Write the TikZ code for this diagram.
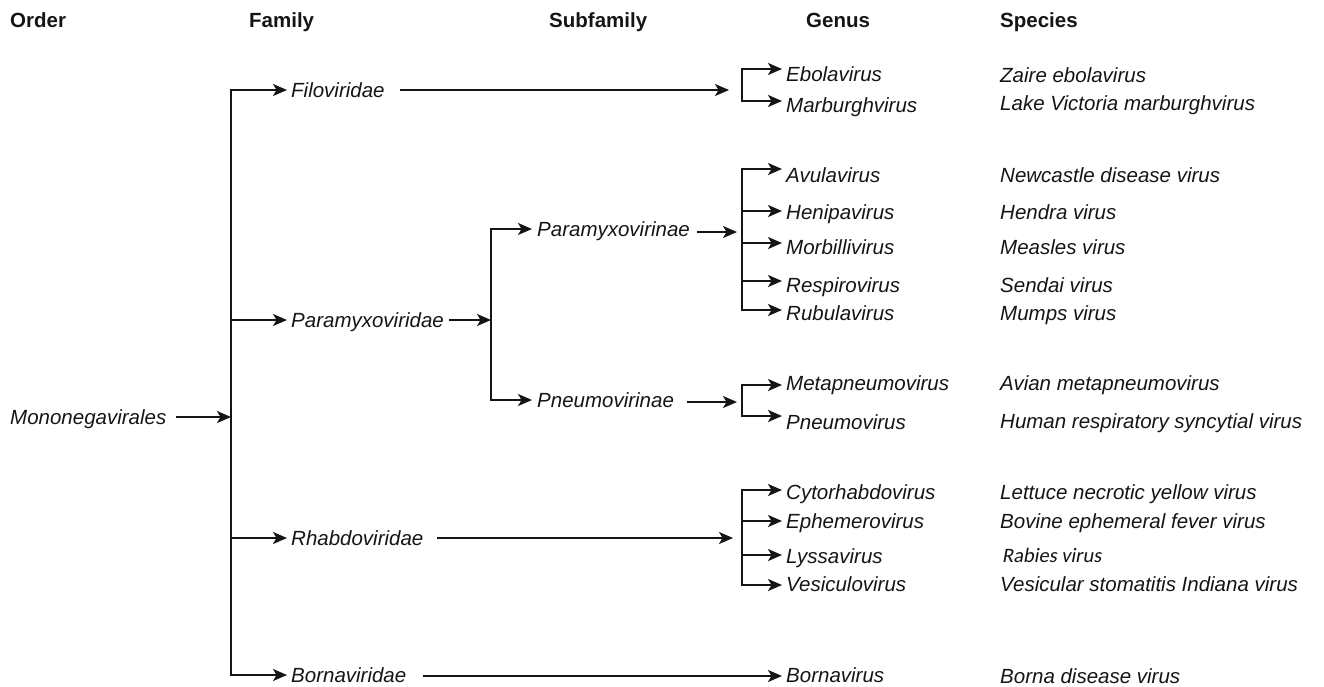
\documentclass[tikz,border=0pt]{standalone}
\usepackage{fontspec}
\setmainfont{Liberation Sans}
\newfontfamily\calfont[FakeSlant=0.18]{Carlito}
\usetikzlibrary{arrows.meta,calc}
\definecolor{ink}{HTML}{151515}

% arrow from a bracket (x of #1) to genus node #2, shifted down by #3 px
\newcommand\genarrow[3]{%
  \coordinate (#2-in) at ($(#1 |- #2.west)+(0,#3)$);
  \draw[arr] (#2-in) -- ($(#2.west)+(-4,#3)$);}

\begin{document}
\begin{tikzpicture}[x=1pt,y=-1pt,
  taxon/.style={font=\fontsize{20.5}{24}\selectfont\itshape, text=ink,
    inner sep=0pt, anchor=west, text height=14.7pt, text depth=0pt},
  rank/.style={font=\fontsize{20.5}{24}\selectfont\bfseries, text=ink,
    inner sep=0pt, anchor=west, text height=14.7pt, text depth=0pt},
  calib/.style={font=\fontsize{20.5}{24}\selectfont\calfont, text=ink,
    inner sep=0pt, anchor=west, text height=13.5pt, text depth=0pt},
  link/.style={draw=ink, line width=1.7pt, line cap=rect},
  arr/.style={link, -{Stealth[length=14pt,width=12pt,inset=3.5pt]}},
]
\useasboundingbox (0,0) rectangle (1324,686);

% column headings
\node[rank] (hOrder)   at (10,20)   {Order};
\node[rank] (hFamily)  at (249,20)  {Family};
\node[rank] (hSub)     at (549,20)  {Subfamily};
\node[rank] (hGenus)   at (806,20)  {Genus};
\node[rank] (hSpecies) at (1000,20) {Species};

% order
\node[taxon] (mono) at (10,417) {Mononegavirales};
\coordinate (oBar) at (231,417);
\draw[arr] ([xshift=10pt]mono.east) -- (oBar);

% families
\node[taxon] (filo)     at (291,90)  {Filoviridae};
\node[taxon] (paramyxo) at (291,320) {Paramyxoviridae};
\node[taxon] (rhabdo)   at (291,538) {Rhabdoviridae};
\node[taxon] (borna)    at (291,675) {Bornaviridae};
\draw[link] (oBar |- filo.west) -- (oBar |- borna.west);
\foreach \f in {filo,paramyxo,rhabdo,borna}
  \draw[arr] (oBar |- \f.west) -- ([xshift=-4pt]\f.west);

% subfamilies
\coordinate (pBar) at (491,320);
\draw[arr] ([xshift=6pt]paramyxo.east) -- (pBar);
\node[taxon] (pmv) at (537,229) {Paramyxovirinae};
\node[taxon] (pnv) at (537,400) {Pneumovirinae};
\draw[link] (pBar |- pmv.west) -- (pBar |- pnv.west);
\draw[arr] (pBar |- pmv.west) -- ([xshift=-5pt]pmv.west);
\draw[arr] (pBar |- pnv.west) -- ([xshift=-5pt]pnv.west);

% genus brackets and the arrows leading into them
\coordinate (gF) at (742,90);
\coordinate (gP) at (742,232);
\coordinate (gN) at (742,402);
\coordinate (gR) at (742,538);
\draw[arr] ([xshift=16pt]filo.east) -- ($(gF)+(-13,0)$);
\draw[arr] ($(pmv.east)+(8,3)$) -- ($(gP)+(-5,0)$);
\draw[arr] ($(pnv.east)+(14,2)$) -- ($(gN)+(-5,0)$);
\draw[arr] ([xshift=14pt]rhabdo.east) -- ($(gR)+(-9,0)$);

% genera
\node[taxon] (ebola)   at (786,74)  {Ebolavirus};
\node[taxon] (marburg) at (786,105) {Marburghvirus};
\node[taxon] (avula)   at (786,175) {Avulavirus};
\node[taxon] (henipa)  at (786,212) {Henipavirus};
\node[taxon] (morbilli) at (786,247) {Morbillivirus};
\node[taxon] (respiro) at (786,285) {Respirovirus};
\node[taxon] (rubula)  at (786,313) {Rubulavirus};
\node[taxon] (metapn)  at (786,383) {Metapneumovirus};
\node[taxon] (pneumo)  at (786,422) {Pneumovirus};
\node[taxon] (cyto)    at (786,492) {Cytorhabdovirus};
\node[taxon] (ephem)   at (786,521) {Ephemerovirus};
\node[taxon] (lyssa)   at (786,556) {Lyssavirus};
\node[taxon] (vesic)   at (786,584) {Vesiculovirus};
\node[taxon] (bornav)  at (786,675) {Bornavirus};

\genarrow{gF}{ebola}{-5}
\genarrow{gF}{marburg}{-4}
\draw[link] (ebola-in) -- (marburg-in);

\genarrow{gP}{avula}{-6}
\genarrow{gP}{henipa}{-1}
\genarrow{gP}{morbilli}{-4}
\genarrow{gP}{respiro}{-4}
\genarrow{gP}{rubula}{-3}
\draw[link] (avula-in) -- (rubula-in);

\genarrow{gN}{metapn}{2}
\genarrow{gN}{pneumo}{-6}
\draw[link] (metapn-in) -- (pneumo-in);

\genarrow{gR}{cyto}{-2}
\genarrow{gR}{ephem}{0}
\genarrow{gR}{lyssa}{-1}
\genarrow{gR}{vesic}{1}
\draw[link] (cyto-in) -- (vesic-in);

\draw[arr] ($(borna.east)+(17,1)$) -- ($(bornav.west)+(-4,1)$);

% species
\node[taxon] (sEbola)   at (1000,75)  {Zaire ebolavirus};
\node[taxon] (sMarburg) at (1000,103) {Lake Victoria marburghvirus};
\node[taxon] (sAvula)   at (1000,175) {Newcastle disease virus};
\node[taxon] (sHenipa)  at (1000,212) {Hendra virus};
\node[taxon] (sMorbi)   at (1000,247) {Measles virus};
\node[taxon] (sRespi)   at (1000,285) {Sendai virus};
\node[taxon] (sRubula)  at (1000,313) {Mumps virus};
\node[taxon] (sMetapn)  at (1000,383) {Avian metapneumovirus};
\node[taxon] (sPneumo)  at (1000,421) {Human respiratory syncytial virus};
\node[taxon] (sCyto)    at (1000,492) {Lettuce necrotic yellow virus};
\node[taxon] (sEphem)   at (1000,521) {Bovine ephemeral fever virus};
\node[calib] (sLyssa)   at (1002,556) {Rabies virus};
\node[taxon] (sVesic)   at (1000,584) {Vesicular stomatitis Indiana virus};
\node[taxon] (sBorna)   at (1000,676) {Borna disease virus};
\end{tikzpicture}
\end{document}
